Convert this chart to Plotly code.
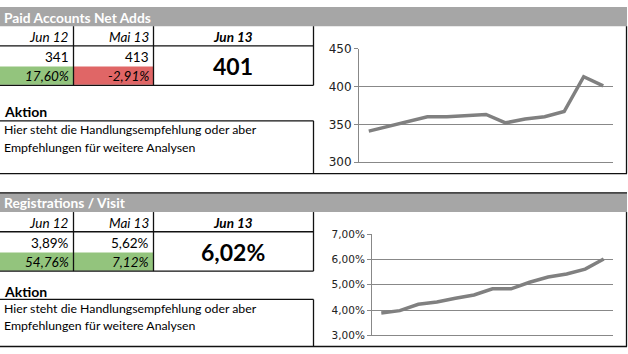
import plotly.graph_objects as go

W, H = 628, 354

# ---------------- data ----------------
months = ["Jun 12", "Jul 12", "Aug 12", "Sep 12", "Okt 12", "Nov 12", "Dez 12",
          "Jan 13", "Feb 13", "Mrz 13", "Apr 13", "Mai 13", "Jun 13"]
paid_net_adds = [341, 347, 353, 360, 360, 361, 363, 352, 357, 360, 367, 413, 401]
reg_per_visit = [3.89, 3.98, 4.23, 4.32, 4.47, 4.60, 4.84, 4.84, 5.10, 5.31, 5.43, 5.62, 6.02]

col_labels = ["Jun 12", "Mai 13", "Jun 13"]
paid_table = ["341", "413", "401"]
paid_change = ["17,60%", "-2,91%"]
reg_table = ["3,89%", "5,62%", "6,02%"]
reg_change = ["54,76%", "7,12%"]

paid_ticks = [300, 350, 400, 450]
paid_ticktext = ["300", "350", "400", "450"]
reg_ticks = [3, 4, 5, 6, 7]
reg_ticktext = ["3,00%", "4,00%", "5,00%", "6,00%", "7,00%"]

section_titles = ["Paid Accounts Net Adds", "Registrations / Visit"]
aktion_lines = ["Hier steht die Handlungsempfehlung oder aber",
                "Empfehlungen für weitere Analysen"]

FONT = "Lato"
TICKFONT = "DejaVu Sans"
GREEN = "#93c47d"
RED = "#e06666"
HEAD = "#a6a6a6"
LINE = "#808080"
GRID = "#888888"


def px(x):
    return x / W


def py(y):
    return 1 - y / H


shapes = []
annotations = []


def rect(x0, y0, x1, y1, color):
    shapes.append(dict(type="rect", xref="paper", yref="paper", x0=px(x0), x1=px(x1),
                       y0=py(y1), y1=py(y0), fillcolor=color, line=dict(width=0), layer="below"))


def hline(y, x0, x1, w=1.3, color="#111111"):
    shapes.append(dict(type="line", xref="paper", yref="paper", x0=px(x0), x1=px(x1),
                       y0=py(y), y1=py(y), line=dict(color=color, width=w)))


def vline(x, y0, y1, w=1.3, color="#111111"):
    shapes.append(dict(type="line", xref="paper", yref="paper", x0=px(x), x1=px(x),
                       y0=py(y0), y1=py(y1), line=dict(color=color, width=w)))


def text(x, y, t, size=12, anchor="left", color="#000000"):
    annotations.append(dict(xref="paper", yref="paper", x=px(x), y=py(y), text=t,
                            showarrow=False, xanchor=anchor, yanchor="middle", align=anchor,
                            font=dict(family=FONT, size=size, color=color)))


def section(top, title, vals, changes, change_colors, big_size):
    # header band
    rect(0, top, 627, top + 20, HEAD)
    text(2, top + 10.5, "<b>%s</b>" % title, size=13.8, color="#ffffff")
    # table
    t0 = top + 20
    rect(0, t0 + 42, 73, t0 + 61, change_colors[0])
    rect(73, t0 + 42, 153, t0 + 61, change_colors[1])
    hline(t0 + 20.5, 0, 313.5)
    hline(t0 + 61.5, 0, 313.5)
    for xv in (73.5, 153.5, 313.5):
        vline(xv, t0, t0 + 61.5)
    text(70.5, t0 + 11, "<i>%s</i>" % col_labels[0], size=13.5, anchor="right")
    text(150.5, t0 + 11, "<i>%s</i>" % col_labels[1], size=13.5, anchor="right")
    text(233, t0 + 11, "<b><i>%s</i></b>" % col_labels[2], size=13.5, anchor="center")
    text(70.5, t0 + 32, vals[0], size=13.5, anchor="right")
    text(150.5, t0 + 32, vals[1], size=13.5, anchor="right")
    text(70.5, t0 + 52, "<i>%s</i>" % changes[0], size=13.5, anchor="right")
    text(150.5, t0 + 52, "<i>%s</i>" % changes[1], size=13.5, anchor="right")
    text(233, t0 + 41.5, "<b>%s</b>" % vals[2], size=big_size, anchor="center")
    return t0


def aktion(label_y, box_top, box_bottom, line_ys):
    text(2, label_y, "<b>Aktion</b>", size=14)
    hline(box_top, 0, 313.5)
    vline(313.5, box_top, box_bottom)
    hline(box_bottom, 0, 627)
    for ly, s in zip(line_ys, aktion_lines):
        text(2, ly, s, size=12.3)


# ---- top section ----
section(0, section_titles[0], paid_table, paid_change, [GREEN, RED], 23)
aktion(109, 118.5, 173.5, [128, 146])
vline(626.5, 20, 173.5)

# ---- bottom section ----
hline(193.5, 0, 627)
section(193.5, section_titles[1], reg_table, reg_change, [GREEN, GREEN], 23)
aktion(296, 304.5, 353.5, [313.5, 332])
vline(626.5, 213.5, 353.5)

fig = go.Figure()
fig.add_trace(go.Scatter(x=months, y=paid_net_adds, mode="lines",
                         line=dict(color=LINE, width=3.5), xaxis="x", yaxis="y",
                         hoverinfo="skip", showlegend=False))
fig.add_trace(go.Scatter(x=months, y=reg_per_visit, mode="lines",
                         line=dict(color=LINE, width=3.5), xaxis="x2", yaxis="y2",
                         hoverinfo="skip", showlegend=False))

common_x = dict(type="category", range=[-0.5, 12.5], showticklabels=False, showgrid=False,
                zeroline=False, showline=True, linecolor=GRID, linewidth=1, ticks="")
common_y = dict(showgrid=True, gridcolor=GRID, gridwidth=1, zeroline=False, showline=True,
                linecolor=GRID, linewidth=1, ticks="outside", ticklen=4, tickcolor=GRID,
                tickmode="array")

fig.update_layout(
    width=W, height=H,
    margin=dict(l=0, r=0, t=0, b=0),
    paper_bgcolor="#ffffff", plot_bgcolor="#ffffff",
    showlegend=False,
    xaxis=dict(domain=[px(359), px(613)], anchor="y", **common_x),
    yaxis=dict(domain=[py(161.5), py(43.5)], anchor="x", range=[300, 450],
               tickvals=paid_ticks, ticktext=paid_ticktext,
               tickfont=dict(family=TICKFONT, size=12, color="#222222"), **common_y),
    xaxis2=dict(domain=[px(372), px(613)], anchor="y2", **common_x),
    yaxis2=dict(domain=[py(342), py(236.5)], anchor="x2", range=[3, 7],
                tickvals=reg_ticks, ticktext=reg_ticktext,
                tickfont=dict(family=TICKFONT, size=10.5, color="#222222"), **common_y),
    shapes=shapes,
    annotations=annotations,
)

fig.write_html("out.html")
